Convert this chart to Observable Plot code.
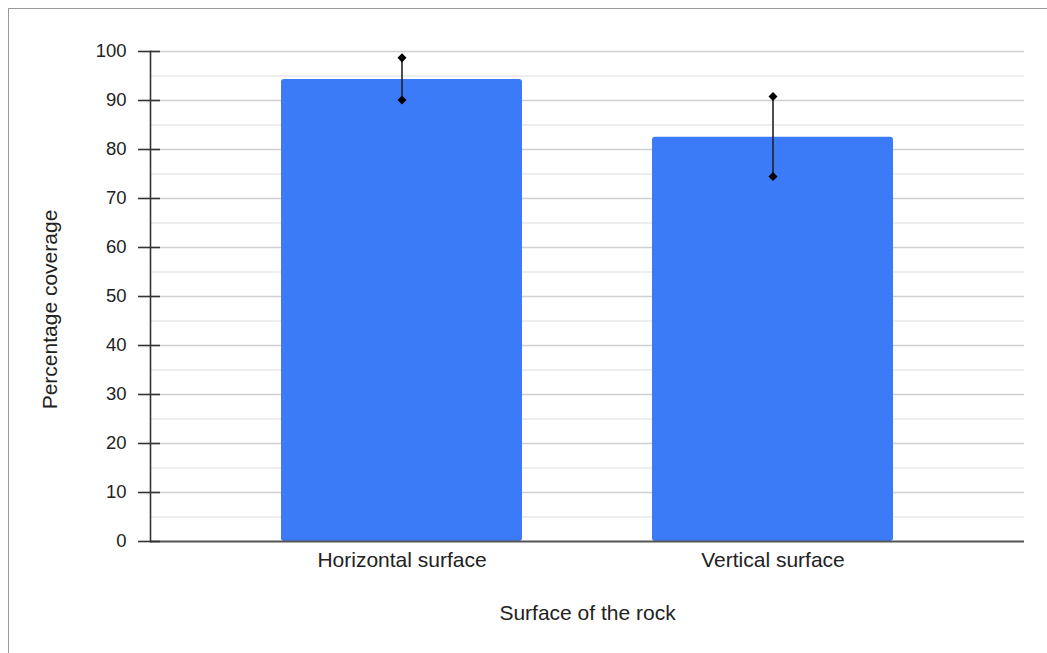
<!DOCTYPE html>
<html><head><meta charset="utf-8">
<script src="https://cdn.jsdelivr.net/npm/d3@7"></script>
<script src="https://cdn.jsdelivr.net/npm/@observablehq/plot@0.6"></script>
<style>
html,body{margin:0;padding:0;background:#fff;}
#wrap{position:relative;width:1047px;height:653px;overflow:hidden;}
#border{position:absolute;left:8px;top:8px;right:-5px;bottom:-5px;border-top:1.5px solid #9a9a9a;border-left:1.5px solid #9a9a9a;pointer-events:none;}
#chart{position:absolute;left:0;top:0;}
</style></head><body>
<div id="wrap"><div id="chart"></div><div id="border"></div></div>
<script>
const categories = ["Horizontal surface", "Vertical surface"];
const coverage = [94.3, 82.5];
const errLow = [90.1, 74.5];
const errHigh = [98.7, 90.8];
const majorTicks = [0, 10, 20, 30, 40, 50, 60, 70, 80, 90, 100];
const minorTicks = [5, 15, 25, 35, 45, 55, 65, 75, 85, 95];
const xLabel = "Surface of the rock";
const yLabel = "Percentage coverage";

const rows = categories.map((c, i) => ({category: c, value: coverage[i], low: errLow[i], high: errHigh[i]}));
const ends = rows.flatMap(r => [{category: r.category, y: r.low}, {category: r.category, y: r.high}]);

const plot = Plot.plot({
  width: 1047, height: 653,
  marginLeft: 150, marginRight: 23, marginTop: 51, marginBottom: 112,
  style: {fontFamily: "'Liberation Sans', Arial, Helvetica, sans-serif", fontSize: "21px", color: "#222", background: "transparent"},
  x: {domain: categories, padding: 0.35, label: null},
  y: {domain: [0, 100], label: null},
  marks: [
    Plot.ruleY(minorTicks, {stroke: "#e8e8e8", strokeWidth: 1.5}),
    Plot.ruleY(majorTicks.filter(d => d > 0), {stroke: "#d0d0d0", strokeWidth: 1.5}),
    Plot.barY(rows, {x: "category", y: "value", fill: "#3c7bf7", rx: 3}),
    Plot.ruleY([0], {stroke: "#555", strokeWidth: 2}),
    Plot.frame({anchor: "left", stroke: "#333", strokeWidth: 1.6}),
    Plot.ruleX(rows, {x: "category", y1: "low", y2: "high", stroke: "#222", strokeWidth: 1.6}),
    Plot.dot(ends, {x: "category", y: "y", symbol: "square", rotate: 45, r: 3.6, fill: "#000"}),
    Plot.axisY({ticks: majorTicks, tickSize: 0, tickPadding: 24, fontSize: 18.5, label: null}),
    Plot.axisY({ticks: majorTicks, tickSize: 22, dx: 10, fill: "none", stroke: "#333", strokeWidth: 1.6, label: null}),
    Plot.axisX({tickSize: 0, tickPadding: 11, fontSize: 21, label: null}),
    Plot.text([xLabel], {frameAnchor: "bottom", dy: 72, lineAnchor: "middle", textAnchor: "middle", fontSize: 21, fill: "#222"}),
    Plot.text([yLabel], {frameAnchor: "left", dx: -100, dy: 13, rotate: -90, lineAnchor: "middle", textAnchor: "middle", fontSize: 21, fill: "#222"})
  ]
});
document.getElementById("chart").appendChild(plot);
</script>
</body></html>
